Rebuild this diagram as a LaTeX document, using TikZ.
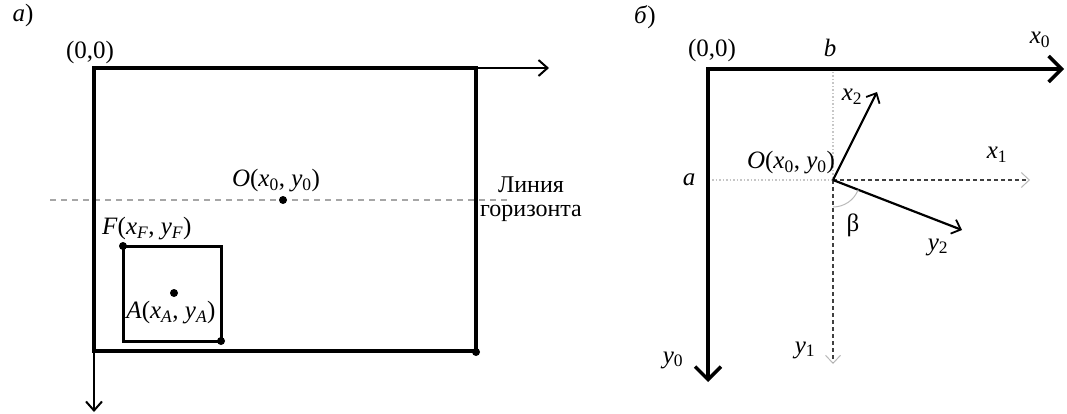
\documentclass[tikz,border=0pt]{standalone}
\usepackage{fontspec}
\setmainfont{Liberation Serif}
\usetikzlibrary{arrows.meta, positioning}

\begin{document}
\begin{tikzpicture}[
    x=1pt, y=-1pt,
    font=\fontsize{25}{28}\selectfont,
    frame/.style={line width=4.5pt},
    axis/.style={line width=2pt, -{Straight Barb[length=9pt, width=16pt, line width=2pt]}},
    bigaxis/.style={line width=3.4pt, line join=miter, {Straight Barb[length=13pt, width=26pt, line width=3.4pt]}-{Straight Barb[length=13pt, width=26pt, line width=3.4pt]}},
    vec/.style={line width=2.2pt, -{Straight Barb[length=8pt, width=15pt, line width=1.8pt]}},
    ghost/.style={line width=1.8pt, black!75, dash pattern=on 4pt off 3pt, -{Straight Barb[length=8pt, width=15pt, line width=1pt, color=gray!55]}},
    helper/.style={line width=1.3pt, gray!45, dash pattern=on 1.5pt off 2pt},
    horizon/.style={line width=1.3pt, gray!70, dash pattern=on 6pt off 5pt},
    dot/.style={circle, fill, inner sep=0pt, minimum size=8pt},
    lbl/.style={inner sep=1pt}
]
\useasboundingbox (0,0) rectangle (1067,414);

% Panel a
\node[lbl] (capA) at (23,15) {\textit{а})};
\coordinate (orgA) at (94,68);
\coordinate (trA) at (476,68);
\coordinate (brA) at (476,351);
\coordinate (blA) at (94,351);
\coordinate (xA) at (549,68);
\coordinate (yA) at (94,412);
\coordinate (horL) at (50,200);
\coordinate (horR) at (507,200);
\draw[horizon] (horL) -- (horR);
\draw[frame] (orgA) rectangle (brA);
\draw[axis] (trA) -- (xA);
\draw[axis] (blA) -- (yA);

\node[dot] (centre) at (283,200) {};
\node[dot] (fTop) at (123,246) {};
\node[dot] (fBot) at (221,341) {};
\node[dot] (aPt) at (174,293) {};
\node[dot] (cornerA) at (476,352) {};
\draw[line width=3pt] (fTop.center) rectangle (fBot.center);

\node[lbl] (zeroA) at (90,52) {(0,0)};
\node[lbl] (centreLbl) at (276,181) {\textit{O}(\textit{x}\textsubscript{0}, \textit{y}\textsubscript{0})};
\node[lbl, anchor=west] (fLbl) at (101,229) {\textit{F}(\textit{x\textsubscript{F}}, \textit{y\textsubscript{F}})};
\node[lbl] (aLbl) at (171,313) {\textit{A}(\textit{x\textsubscript{A}}, \textit{y\textsubscript{A}})};
\node[lbl, align=center, font=\fontsize{24}{24.5}\selectfont] (horLbl) at (531,199) {Линия\\горизонта};

% Panel b
\node[lbl] (capB) at (645,17) {\textit{б})};
\coordinate (orgB) at (708,69);
\coordinate (xB) at (1064,69);
\coordinate (yB) at (708,382);
\coordinate (oB) at (833,180);
\coordinate (aFoot) at (712,180);
\coordinate (bFoot) at (833,72);
\coordinate (x1End) at (1030,180);
\coordinate (y1End) at (833,364);
\coordinate (x2End) at (877,92);
\coordinate (y2End) at (962,230);
\coordinate (arcStart) at (833,207);

\draw[helper] (aFoot) -- (oB) -- (bFoot);
\draw[ghost] (oB) -- (x1End);
\draw[ghost] (oB) -- (y1End);
\draw[bigaxis] (xB) -- (orgB) -- (yB);
\draw[vec] (oB) -- (x2End);
\draw[vec] (oB) -- (y2End);
\draw[gray!55, line width=1pt] (arcStart) arc[start angle=90, end angle=21, radius=27];

\node[lbl] (zeroB) at (712,50) {(0,0)};
\node[lbl] (bLbl) at (830,48) {\textit{b}};
\node[lbl] (aLblB) at (689,180) {\textit{a}};
\node[lbl] (x0Lbl) at (1040,40) {\textit{x}\textsubscript{0}};
\node[lbl] (y0Lbl) at (673,360) {\textit{y}\textsubscript{0}};
\node[lbl] (oLbl) at (791,163) {\textit{O}(\textit{x}\textsubscript{0}, \textit{y}\textsubscript{0})};
\node[lbl] (x1Lbl) at (997,155) {\textit{x}\textsubscript{1}};
\node[lbl] (y1Lbl) at (805,350) {\textit{y}\textsubscript{1}};
\node[lbl] (x2Lbl) at (852,97) {\textit{x}\textsubscript{2}};
\node[lbl] (y2Lbl) at (938,247) {\textit{y}\textsubscript{2}};
\node[lbl] (betaLbl) at (853,225) {β};

\end{tikzpicture}
\end{document}
